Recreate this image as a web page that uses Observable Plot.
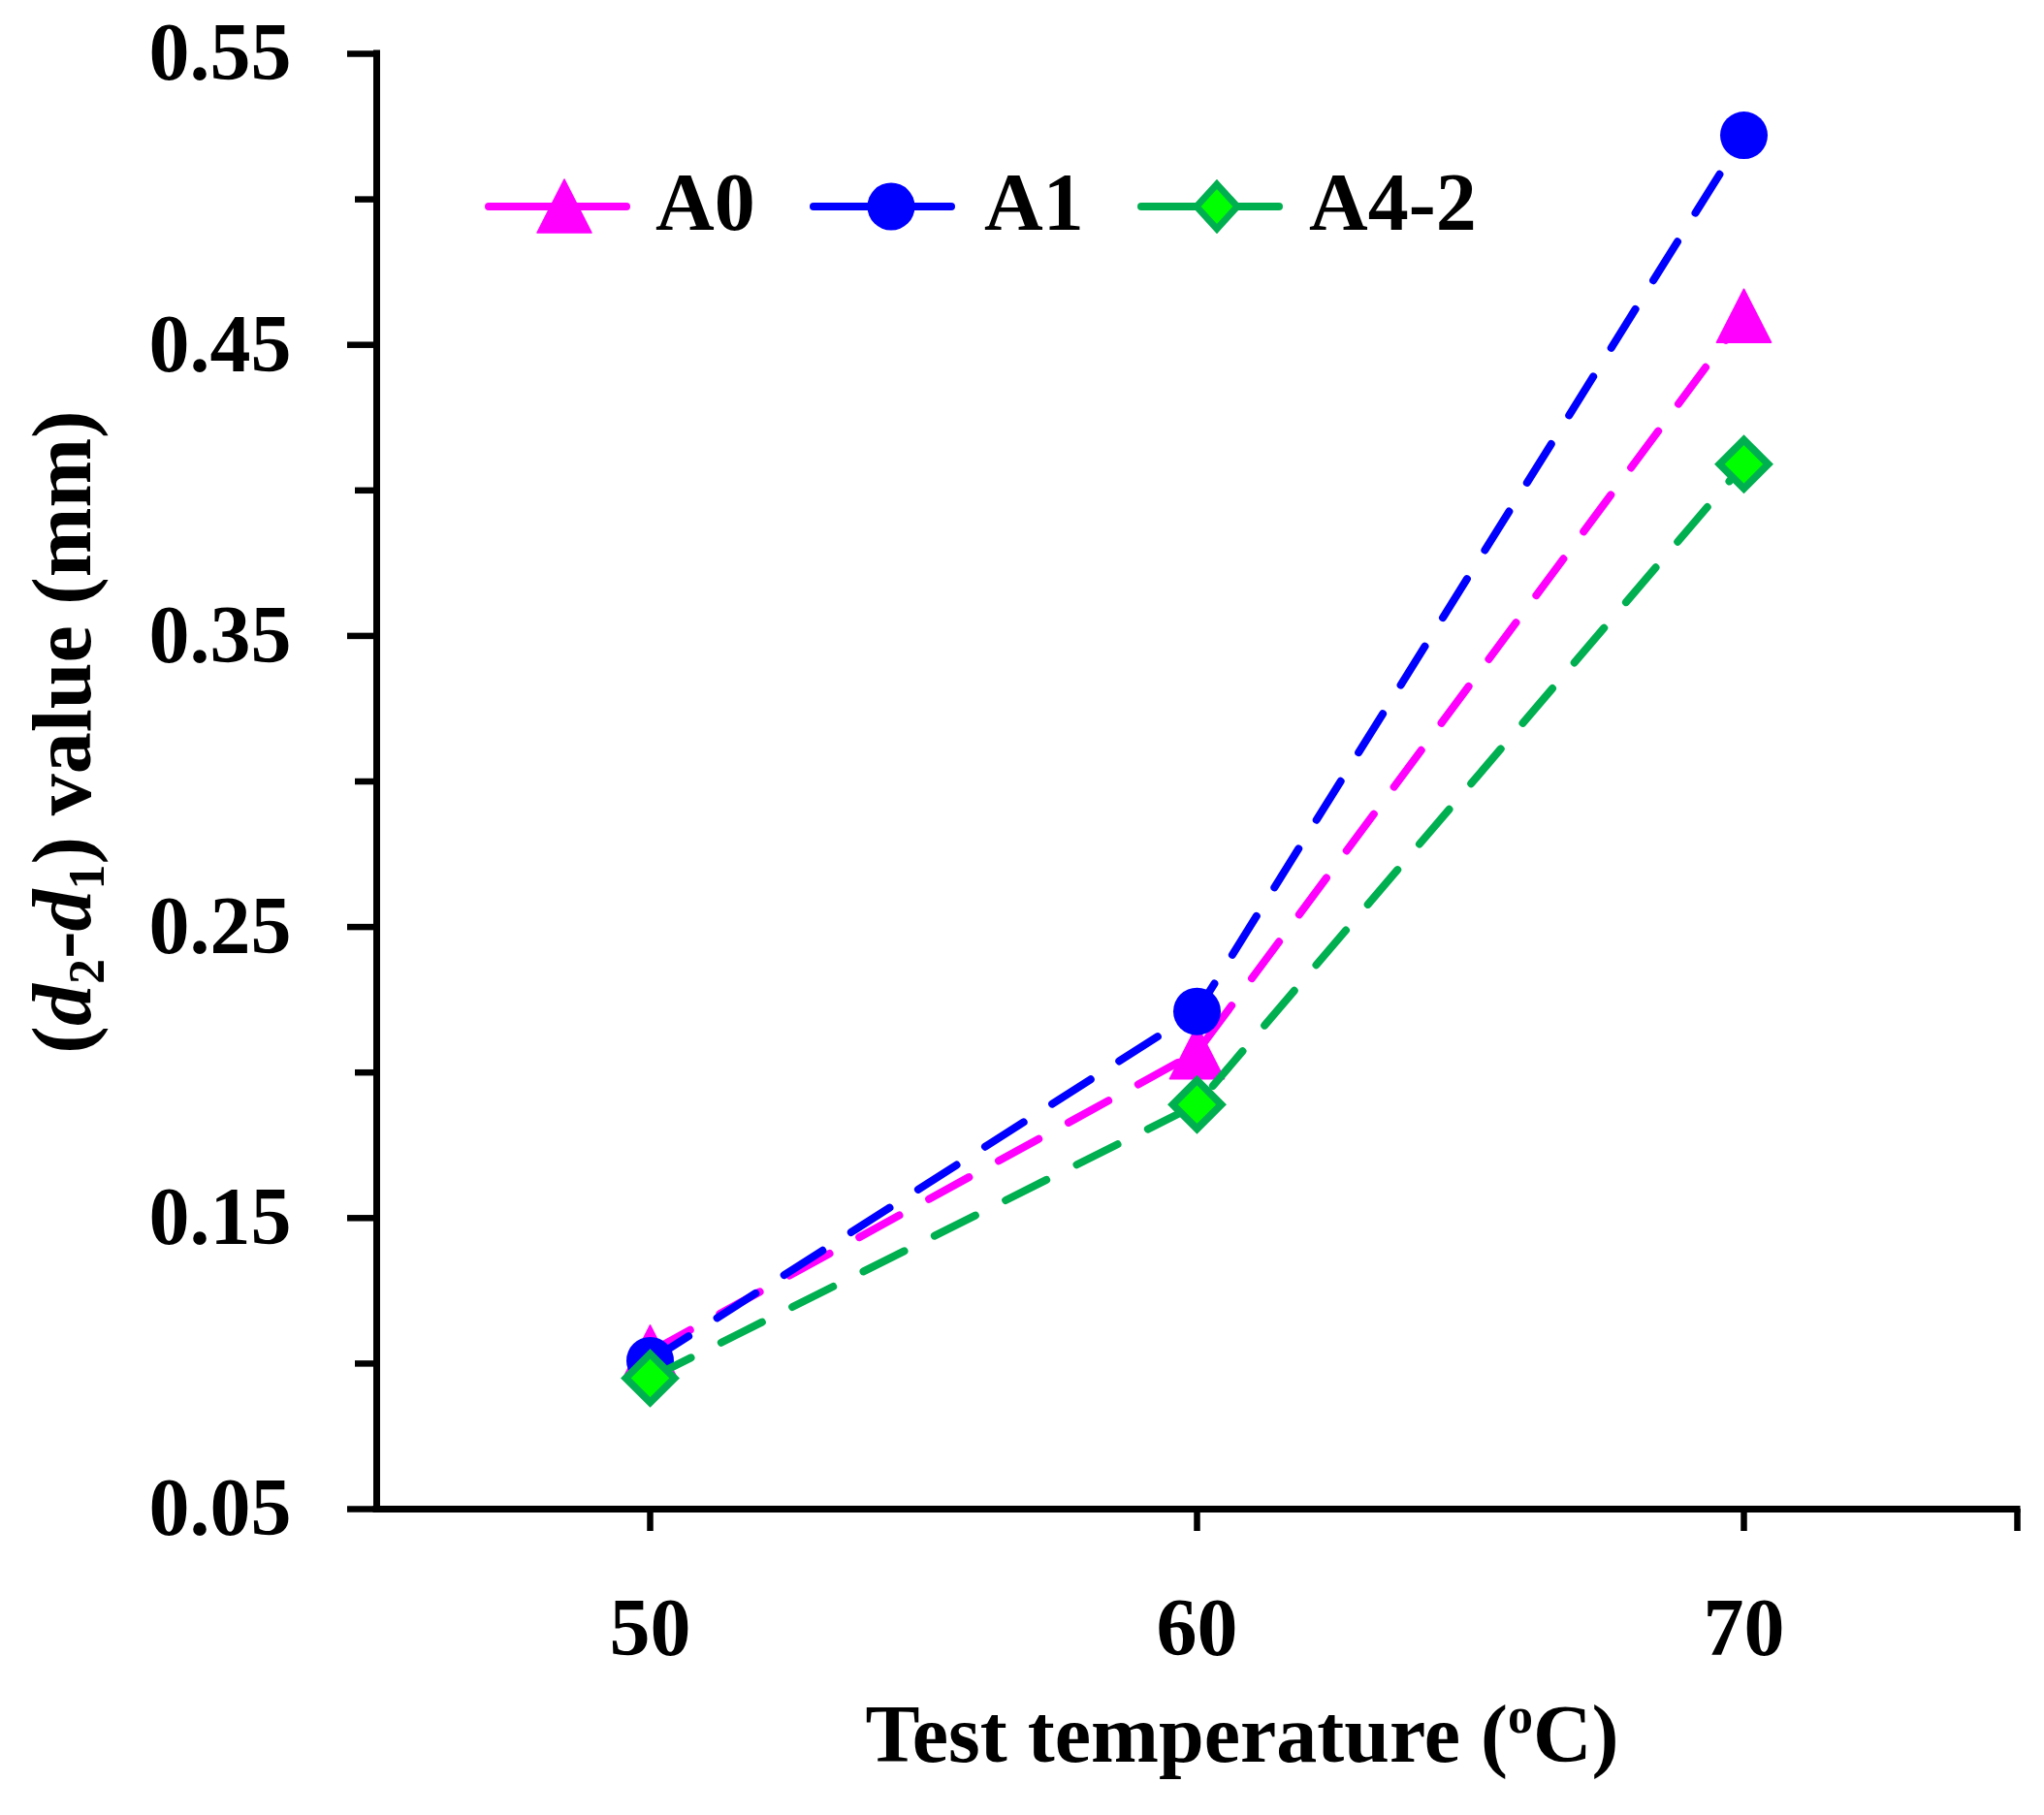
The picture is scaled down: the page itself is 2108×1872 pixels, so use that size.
<!DOCTYPE html>
<html>
<head>
<meta charset="utf-8">
<script src="https://cdn.jsdelivr.net/npm/d3@7"></script>
<script src="https://cdn.jsdelivr.net/npm/@observablehq/plot@0.6"></script>
<style>
  body { margin: 0; background: white; }
</style>
</head>
<body>
<div id="chart"></div>
<script>
const temps = [50, 60, 70];
const a0 = [0.104, 0.207, 0.460];
const a1 = [0.101, 0.221, 0.522];
const a42 = [0.095, 0.189, 0.409];
const seriesNames = ["A0", "A1", "A4-2"];
const yMajor = [0.05, 0.15, 0.25, 0.35, 0.45, 0.55];
const yMinor = [0.10, 0.20, 0.30, 0.40, 0.50];
const xTicks = [50, 60, 70];

const rows = vals => temps.map((t, i) => ({t: t, v: vals[i]}));

// excel-like triangle, centred on its box
const triangle = {
  draw(ctx, size) {
    const s = Math.sqrt(size / Math.PI);
    ctx.moveTo(0, -s);
    ctx.lineTo(s * 1.02, s);
    ctx.lineTo(-s * 1.02, s);
    ctx.closePath();
  }
};

const dash = "47,35";
const lw = 8;

let chart = Plot.plot({
  width: 2108,
  height: 1872,
  marginLeft: 388,
  marginRight: 28,
  marginTop: 55,
  marginBottom: 316,
  x: {domain: [45, 75]},
  y: {domain: [0.05, 0.55]},
  style: {
    fontFamily: "'Liberation Serif', serif",
    fontSize: "84px",
    fontWeight: "bold",
    color: "black",
    background: "white",
    overflow: "visible"
  },
  marks: [
    Plot.axisY({ticks: yMajor, tickSize: 30, tickPadding: 58, tickFormat: d3.format(".2f"), strokeWidth: 6.5, label: null}),
    Plot.axisY({ticks: yMinor, tickSize: 22, tickFormat: () => "", strokeWidth: 6.5, label: null}),
    Plot.axisX({ticks: xTicks, tickSize: 23, tickPadding: 68, tickFormat: d => d, strokeWidth: 6.5, label: null}),
    Plot.axisX({ticks: [75], tickSize: 23, tickFormat: () => "", strokeWidth: 6.5, label: null}),
    Plot.ruleX([45], {y1: 0.05, y2: 0.55, strokeWidth: 7, strokeLinecap: "square"}),
    Plot.ruleY([0.05], {x1: 45, x2: 75, strokeWidth: 7, strokeLinecap: "square"}),

    Plot.line(rows(a0), {x: "t", y: "v", stroke: "#FF00FF", strokeWidth: lw, strokeDasharray: dash, strokeLinecap: "round"}),
    Plot.dot(rows(a0), {x: "t", y: "v", symbol: triangle, r: 27.5, fill: "#FF00FF", stroke: "#FF00FF", strokeWidth: 1.5, strokeLinejoin: "round"}),

    Plot.line(rows(a1), {x: "t", y: "v", stroke: "#0000FF", strokeWidth: lw, strokeDasharray: dash, strokeLinecap: "round"}),
    Plot.dot(rows(a1), {x: "t", y: "v", symbol: "circle", r: 24.5, fill: "#0000FF"}),

    Plot.line(rows(a42), {x: "t", y: "v", stroke: "#00B050", strokeWidth: lw, strokeDasharray: dash, strokeLinecap: "round"}),
    Plot.dot(rows(a42), {x: "t", y: "v", symbol: "diamond2", r: 22.6, fill: "#00FF00", stroke: "#00B050", strokeWidth: 7.6, strokeLinejoin: "miter"})
  ]
});

const svg = d3.select(chart);

// y axis title
const yt = svg.append("text")
  .attr("transform", "translate(93,755) rotate(-90)")
  .attr("text-anchor", "middle")
  .style("font-size", "86px")
  .style("font-weight", "bold")
  .attr("fill", "black");
yt.append("tspan").text("(");
yt.append("tspan").attr("font-style", "italic").text("d");
yt.append("tspan").attr("font-size", "52px").attr("dy", 14).text("2");
yt.append("tspan").attr("dy", -14).text("-");
yt.append("tspan").attr("font-style", "italic").text("d");
yt.append("tspan").attr("font-size", "52px").attr("dy", 14).text("1");
yt.append("tspan").attr("dy", -14).text(") value (mm)");

// x axis title
const xt = svg.append("text")
  .attr("x", 1281).attr("y", 1817)
  .attr("text-anchor", "middle")
  .style("font-size", "84px")
  .style("font-weight", "bold")
  .attr("fill", "black");
xt.append("tspan").text("Test temperature (");
xt.append("tspan").attr("font-size", "52px").attr("dy", -30).text("o");
xt.append("tspan").attr("dy", 30).text("C)");

// legend
const leg = [
  {name: seriesNames[0], x1: 504, x2: 646, cx: 582, tx: 676, color: "#FF00FF"},
  {name: seriesNames[1], x1: 839, x2: 981, cx: 919, tx: 1015, color: "#0000FF"},
  {name: seriesNames[2], x1: 1177, x2: 1319, cx: 1255, tx: 1350, color: "#00B050"}
];
const ly = 213;
const g = svg.append("g");
leg.forEach((d, i) => {
  g.append("line").attr("x1", d.x1).attr("x2", d.x2).attr("y1", ly).attr("y2", ly)
    .attr("stroke", d.color).attr("stroke-width", lw).attr("stroke-linecap", "round");
  if (i == 0) {
    g.append("path").attr("d", "M582,185 L610,240 L554,240 Z")
      .attr("fill", d.color).attr("stroke", d.color).attr("stroke-width", 1.5).attr("stroke-linejoin", "round");
  } else if (i == 1) {
    g.append("circle").attr("cx", d.cx).attr("cy", ly).attr("r", 24.5).attr("fill", d.color);
  } else {
    g.append("path").attr("d", `M${d.cx},${ly - 23} L${d.cx + 21},${ly} L${d.cx},${ly + 23} L${d.cx - 21},${ly} Z`)
      .attr("fill", "#00FF00").attr("stroke", d.color).attr("stroke-width", 7);
  }
  g.append("text").attr("x", d.tx).attr("y", 237).attr("text-anchor", "start")
    .style("font-size", "84px").style("font-weight", "bold").attr("fill", "black").text(d.name);
});

document.getElementById("chart").append(chart);
</script>
</body>
</html>
